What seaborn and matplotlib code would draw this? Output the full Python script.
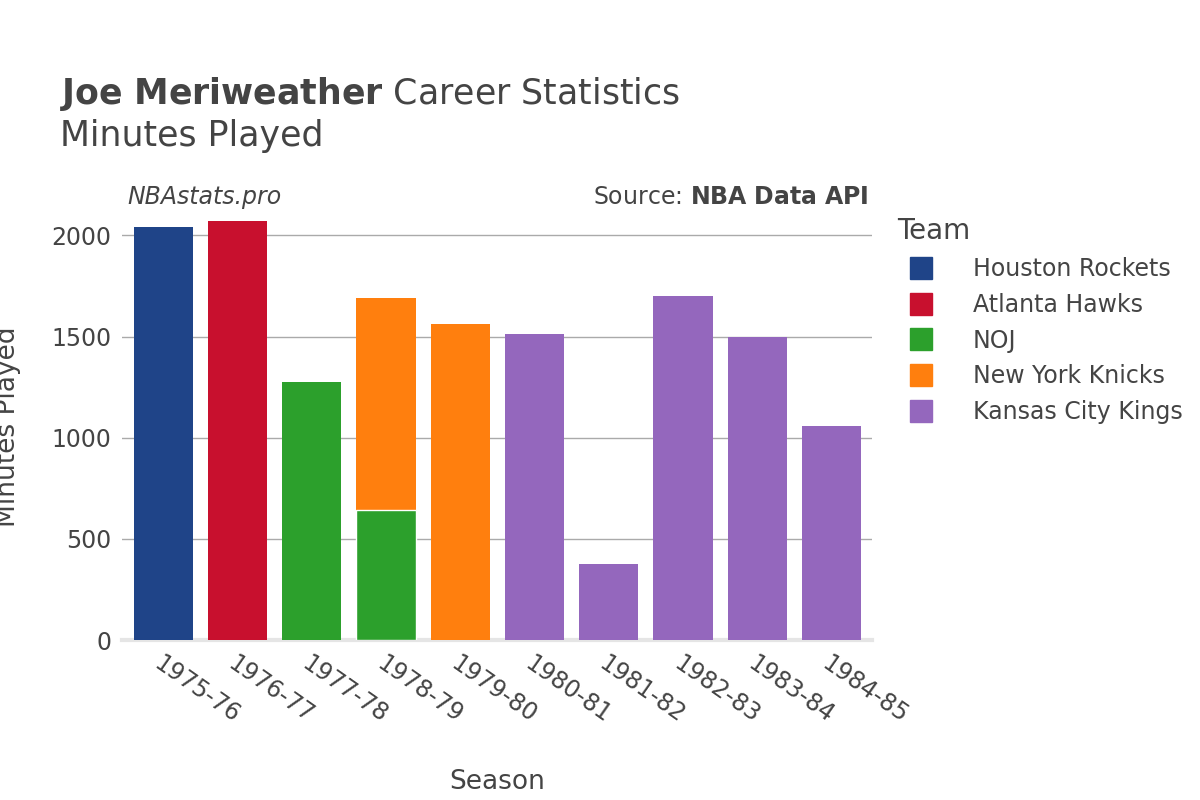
import matplotlib
matplotlib.use("Agg")
import matplotlib.pyplot as plt
import seaborn as sns
import pandas as pd
from matplotlib.lines import Line2D

seasons = ["1975-76", "1976-77", "1977-78", "1978-79", "1979-80",
           "1980-81", "1981-82", "1982-83", "1983-84", "1984-85"]
# total minutes per season, and team of the top segment
totals = [2040, 2069, 1277, 1693, 1564, 1515, 376, 1703, 1500, 1059]
top_team = ["Houston Rockets", "Atlanta Hawks", "NOJ", "New York Knicks", "New York Knicks",
            "Kansas City Kings", "Kansas City Kings", "Kansas City Kings",
            "Kansas City Kings", "Kansas City Kings"]
# lower segment of split season
split_season = ["1978-79"]
split_minutes = [644]
split_team = ["NOJ"]

teams = ["Houston Rockets", "Atlanta Hawks", "NOJ", "New York Knicks", "Kansas City Kings"]
colors = ["#1f4488", "#c8102e", "#2ca02c", "#ff7f0e", "#9467bd"]
palette = dict(zip(teams, colors))

df = pd.DataFrame({"season": seasons, "minutes": totals, "team": top_team})
low = pd.DataFrame({"season": split_season, "minutes": split_minutes, "team": split_team})

fig = plt.figure(figsize=(12, 8), dpi=100)
ax = fig.add_axes([0.102, 0.2, 0.625, 0.532])

sns.barplot(data=df, x="season", y="minutes", hue="team", order=seasons,
            palette=palette, dodge=False, width=0.8, ax=ax, legend=False,
            saturation=1, zorder=3)
sns.barplot(data=low, x="season", y="minutes", hue="team", order=seasons,
            palette=palette, dodge=False, width=0.8, ax=ax, legend=False,
            saturation=1, zorder=4, edgecolor="white", linewidth=1)

ax.set_ylim(0, 2104)
ax.set_xlim(-0.55, 9.55)
ax.set_yticks([0, 500, 1000, 1500, 2000])
ax.grid(axis="y", color="#aaaaaa", linewidth=1, zorder=0)
ax.set_axisbelow(True)
for s in ["top", "right", "left"]:
    ax.spines[s].set_visible(False)
ax.spines["bottom"].set_color("#e5e5e5")
ax.spines["bottom"].set_linewidth(3)
ax.tick_params(axis="both", length=0, labelsize=17, colors="#444444", pad=8)
plt.setp(ax.get_xticklabels(), rotation=-35, ha="left", rotation_mode="anchor", fontsize=17)
ax.set_xlabel("Season", fontsize=19, color="#444444", labelpad=30)
ax.set_ylabel("Minutes Played", fontsize=19, color="#444444", labelpad=22)

fig.text(0.05, 0.87, r"$\bf{Joe\ Meriweather}$ Career Statistics", fontsize=25, color="#444444")
fig.text(0.05, 0.817, "Minutes Played", fontsize=25, color="#444444")
fig.text(0.106, 0.745, "NBAstats.pro", fontsize=17, style="italic", color="#444444")
fig.text(0.724, 0.745, r"Source: $\bf{NBA\ Data\ API}$", fontsize=17, color="#444444", ha="right")

handles = [Line2D([0], [0], marker="s", linestyle="", markersize=16,
                  markerfacecolor=c, markeredgecolor=c) for c in colors]
leg = fig.legend(handles, teams, loc="upper left", bbox_to_anchor=(0.73, 0.755),
                 frameon=False, fontsize=17, title="Team", title_fontsize=20,
                 labelspacing=0.5, handletextpad=1.2)
leg._legend_box.align = "left"
for t in leg.get_texts():
    t.set_color("#444444")
leg.get_title().set_color("#444444")

fig.savefig("out.png", dpi=100)
